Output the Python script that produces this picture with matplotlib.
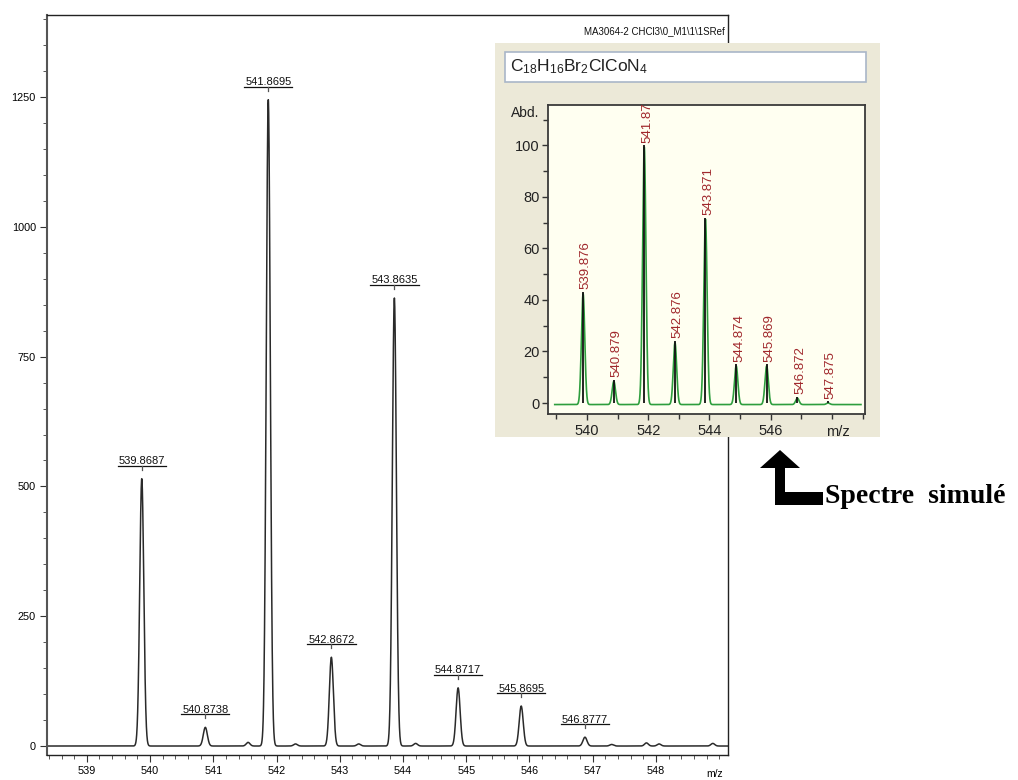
import numpy as np
import matplotlib
matplotlib.use('Agg')
import matplotlib.pyplot as plt
from matplotlib.patches import Rectangle, Polygon
from matplotlib.lines import Line2D
from matplotlib.ticker import MultipleLocator, FixedLocator
from matplotlib.transforms import offset_copy

plt.rcParams['font.family'] = ['Liberation Sans', 'DejaVu Sans']
plt.rcParams['mathtext.fontset'] = 'custom'
plt.rcParams['mathtext.rm'] = 'Liberation Sans'
plt.rcParams['mathtext.it'] = 'Liberation Sans'
plt.rcParams['mathtext.default'] = 'regular'

# ---------------- data ----------------
meas_mz = [539.8687, 540.8738, 541.8695, 542.8672, 543.8635, 544.8717, 545.8695, 546.8777]
meas_int = [515, 36, 1245, 171, 863, 112, 77, 17]
minor_mz = [541.55, 542.30, 543.30, 544.20, 547.30, 547.85, 548.05, 548.90]
minor_int = [7, 4, 4, 5, 3, 6, 4, 5]
main_yticks = [0, 250, 500, 750, 1000, 1250]
main_xticks = [539, 540, 541, 542, 543, 544, 545, 546, 547, 548]

sim_mz = [539.876, 540.879, 541.873, 542.876, 543.871, 544.874, 545.869, 546.872, 547.875]
sim_int = [43, 9, 100, 24, 72, 15, 15, 2.5, 0.6]
sim_labels = ['539.876', '540.879', '541.873', '542.876', '543.871',
              '544.874', '545.869', '546.872', '547.875']
inset_yticks = [0, 20, 40, 60, 80, 100]
inset_xticks = [540, 542, 544, 546]

title_txt = r'MA3064-2 CHCl3\0_M1\1\1SRef'
formula = r'C$_{18}$H$_{16}$Br$_{2}$ClCoN$_{4}$'

W, H = 1018, 780
def fx(p): return p / W
def fy(p): return 1 - p / H

fig = plt.figure(figsize=(W / 100, H / 100), dpi=100)
fig.patch.set_facecolor('white')

# ---------------- main spectrum ----------------
ax = fig.add_axes([fx(47), fy(755), (728 - 47) / W, (755 - 15) / H], zorder=0)
ax.set_xlim(538.37, 549.14)
ax.set_ylim(-17.3, 1408)
x = np.arange(538.37, 549.14, 0.002)
prof = np.zeros_like(x)
for c, h in zip(meas_mz, meas_int):
    prof += h * np.exp(-0.5 * ((x - c) / 0.032) ** 2)
for c, h in zip(minor_mz, minor_int):
    prof += h * np.exp(-0.5 * ((x - c) / 0.03) ** 2)
ax.plot(x, prof, color='#2a2a2a', lw=1.1)

for s in ax.spines.values():
    s.set_color('#222222')
    s.set_linewidth(1.0)
ax.spines['left'].set_color('#555555')
ax.spines['left'].set_linewidth(1.5)
ax.yaxis.set_major_locator(FixedLocator(main_yticks))
ax.yaxis.set_minor_locator(MultipleLocator(50))
ax.xaxis.set_major_locator(FixedLocator(main_xticks))
ax.xaxis.set_minor_locator(MultipleLocator(0.2))
ax.tick_params(which='major', direction='out', length=5, width=0.8,
               labelsize=7.8, pad=3, color='#333333')
ax.tick_params(which='minor', direction='out', length=3, width=0.7, color='#555555')

labels = []
for c, h in zip(meas_mz, meas_int):
    t = ax.annotate(f'{c:.4f}', xy=(c, h), xytext=(0, 9), textcoords='offset points',
                    ha='center', va='bottom', fontsize=8, color='#111111')
    labels.append(t)

ax.text(0.995, 0.985, title_txt, transform=ax.transAxes, ha='right', va='top',
        fontsize=7, color='#111111')
fig.text(fx(715), fy(774), 'm/z', fontsize=7.5, ha='center', va='center')

# underlines for peak labels
fig.canvas.draw()
r = fig.canvas.get_renderer()
inv = fig.transFigure.inverted()
for t in labels:
    bb = t.get_window_extent(r)
    yl = bb.y0 + 0.5
    p0 = inv.transform((bb.x0 - 1, yl))
    p1 = inv.transform((bb.x1 + 1, yl))
    fig.add_artist(Line2D([p0[0], p1[0]], [p0[1], p1[1]], color='#111111', lw=0.9,
                          transform=fig.transFigure, zorder=0.5))
    cx = (bb.x0 + bb.x1) / 2
    q0 = inv.transform((cx, yl))
    q1 = inv.transform((cx, yl - 4))
    fig.add_artist(Line2D([q0[0], q1[0]], [q0[1], q1[1]], color='#555555', lw=0.9,
                          transform=fig.transFigure, zorder=0.5))

# ---------------- inset panel ----------------
fig.add_artist(Rectangle((fx(495), fy(437)), 385 / W, (437 - 43) / H,
                         transform=fig.transFigure, facecolor='#ECE9D8',
                         edgecolor='none', zorder=1))
fig.add_artist(Rectangle((fx(505), fy(82)), (866 - 505) / W, (82 - 52) / H,
                         transform=fig.transFigure, facecolor='white',
                         edgecolor='#A9B6C8', lw=1.2, zorder=1.5))
fig.text(fx(510), fy(67), formula, fontsize=12.5, ha='left', va='center',
         color='#222222', zorder=2)

iax = fig.add_axes([fx(548), fy(414), (865 - 548) / W, (414 - 105) / H], zorder=3)
iax.set_facecolor('#FFFFF1')
iax.set_xlim(538.73, 549.08)
iax.set_ylim(-4.27, 115.7)
xi = np.arange(538.95, 548.95, 0.002)
gprof = np.full_like(xi, -0.6)
for c, h in zip(sim_mz, sim_int):
    gprof += h * np.exp(-0.5 * ((xi - c) / 0.055) ** 2)
iax.plot(xi, gprof, color='#2E9E3E', lw=1.2, zorder=2)
iax.vlines(sim_mz, 0, sim_int, color='#111111', lw=1.3, zorder=3)

trans_lbl = offset_copy(iax.transData, fig=fig, x=2, y=2, units='points')
for c, h, lbl in zip(sim_mz, sim_int, sim_labels):
    iax.text(c, h, lbl, transform=trans_lbl, rotation=90, ha='center', va='bottom',
             fontsize=9.5, color='#A0282C', clip_on=True, zorder=4)

for s in iax.spines.values():
    s.set_color('#3a3a3a')
    s.set_linewidth(1.3)
iax.yaxis.set_major_locator(FixedLocator(inset_yticks))
iax.yaxis.set_minor_locator(MultipleLocator(10))
iax.xaxis.set_major_locator(FixedLocator(inset_xticks))
iax.xaxis.set_minor_locator(MultipleLocator(1))
iax.tick_params(which='major', direction='out', length=4, width=1.0,
                labelsize=10.5, pad=2, color='#333333', labelcolor='#222222')
iax.tick_params(which='minor', direction='out', length=3.5, width=1.0, color='#333333')
iax.tick_params(axis='x', which='major', pad=3)

fig.text(fx(525), fy(113), 'Abd.', fontsize=10, ha='center', va='center',
         color='#222222', zorder=4)
fig.text(fx(838), fy(432), 'm/z', fontsize=10.5, ha='center', va='center',
         color='#222222', zorder=4)

# ---------------- arrow + caption ----------------
arrow_px = [(780, 450), (800, 468), (785, 468), (785, 492), (823, 492),
            (823, 505), (775, 505), (775, 468), (760, 468)]
fig.add_artist(Polygon([(fx(a), fy(b)) for a, b in arrow_px], closed=True,
                       transform=fig.transFigure, facecolor='black',
                       edgecolor='none', zorder=5))
fig.text(fx(825), fy(503), 'Spectre  simulé', family=['Liberation Serif', 'DejaVu Serif'],
         weight='bold', fontsize=20, ha='left', va='baseline', color='black', zorder=5)

fig.savefig('out.png', dpi=100)
